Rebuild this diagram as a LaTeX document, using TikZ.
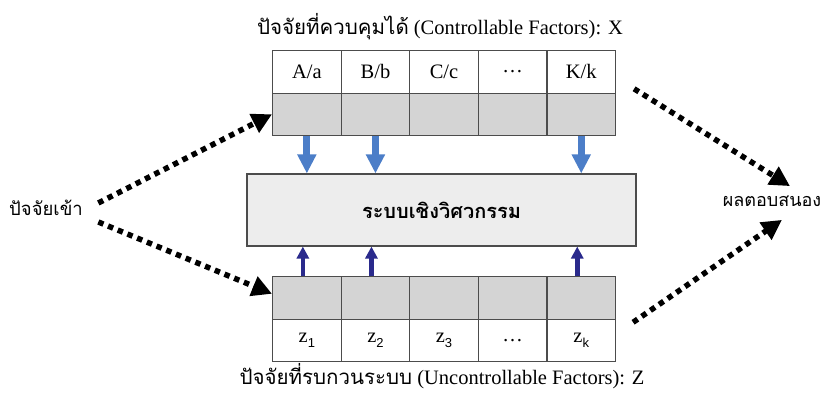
\documentclass[tikz,border=0pt]{standalone}
\usepackage{fontspec}
\setmainfont{Liberation Serif}
\setsansfont{Liberation Sans}
\newfontfamily\thaifont[Script=Thai]{Loma}
\usetikzlibrary{arrows.meta}

\definecolor{ctrlblue}{RGB}{76,126,200}
\definecolor{noiseblue}{RGB}{42,42,140}

\newcommand\zsub[1]{\raisebox{-0.45ex}{\sffamily\fontsize{13}{13}\selectfont #1}}

\tikzset{
  cell/.style={draw=black!70, line width=1.1pt, minimum width=68.6pt,
    minimum height=42.5pt, inner sep=0pt, anchor=north west},
  sysbox/.style={draw=black!70, line width=1.1pt, fill=black!7,
    minimum width=389pt, minimum height=72pt, inner sep=0pt},
  ctrl arrow/.style={draw=ctrlblue, line width=7pt,
    -{Triangle[width=18pt,length=19pt]}},
  noise arrow/.style={draw=noiseblue, line width=4.5pt,
    -{Triangle[width=12pt,length=12pt]}},
  dot arrow/.style={line width=5.5pt, dash pattern=on 5.5pt off 5pt,
    -{Triangle[width=20pt,length=20pt]}}
}

\begin{document}
\begin{tikzpicture}[x=1pt,y=-1pt,font=\fontsize{20.5}{22}\selectfont]
\useasboundingbox (0,0) rectangle (824,396);

\foreach \t [count=\i] in {A/a,B/b,C/c,…,K/k}{
  \node[cell] (top\i) at ({272+(\i-1)*68.6},50) {\t};
  \node[cell,fill=black!17] (topg\i) at ({272+(\i-1)*68.6},92.5) {};
}
\foreach \t [count=\i] in {z\zsub{1},z\zsub{2},z\zsub{3},…,z\zsub{k}}{
  \node[cell,fill=black!17] (botg\i) at ({272+(\i-1)*68.6},276) {};
  \node[cell] (bot\i) at ({272+(\i-1)*68.6},318.5) {\t};
}

\node[sysbox] (sys) at (441.5,210) {\thaifont\bfseries\fontsize{20}{22}\selectfont ระบบเชิงวิศวกรรม};

\node (xlabel) at (440,27) {{\thaifont ปัจจัยที่ควบคุมได้} (Controllable Factors): X};
\node (zlabel) at (442,376) {{\thaifont ปัจจัยที่รบกวนระบบ} (Uncontrollable Factors): Z};
\node (in) at (46,208) {\thaifont\fontsize{18.5}{20}\selectfont ปัจจัยเข้า};
\node (out) at (772,201) {\thaifont\fontsize{18}{20}\selectfont ผลตอบสนอง};

\foreach \i in {1,2,5}
  \draw[ctrl arrow] (topg\i.south) -- (topg\i.south |- sys.north);
\foreach \i in {1,2,5}
  \draw[noise arrow] ([xshift=-4pt]botg\i.north) -- ([xshift=-4pt]botg\i.north |- sys.south);

\draw[dot arrow] ([shift={(12,-5)}]in.east) -- (topg1.west);
\draw[dot arrow] ([shift={(12,14)}]in.east) -- ([yshift=4pt]botg1.west);
\draw[dot arrow] ([shift={(18,17)}]top5.east) -- ([shift={(18,-6)}]out.north);
\draw[dot arrow] ([shift={(17,-18)}]bot5.east) -- ([shift={(10,10)}]out.south);
\end{tikzpicture}
\end{document}
